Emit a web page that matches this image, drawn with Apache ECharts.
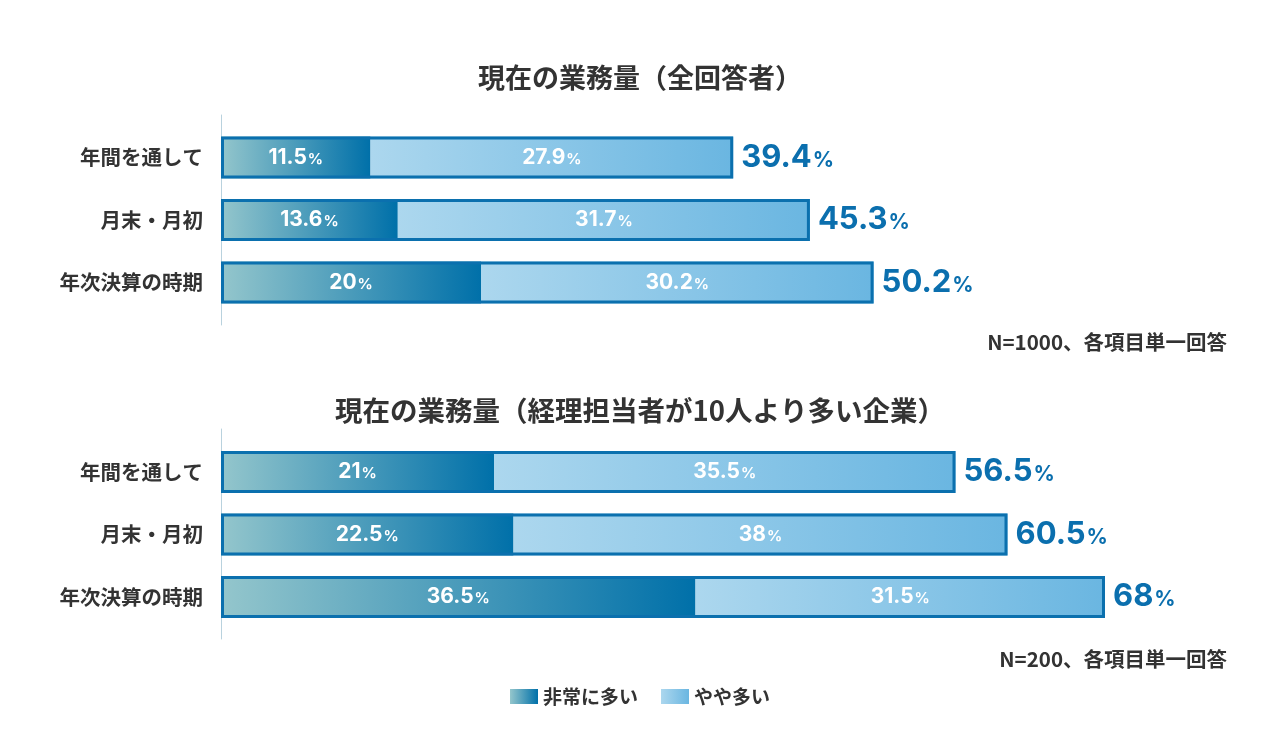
<!DOCTYPE html>
<html>
<head>
<meta charset="UTF-8">
<title>現在の業務量</title>
<style>
  html, body { margin: 0; padding: 0; background: #fff; }
  #container { width: 1280px; height: 750px; }
</style>
</head>
<body>
<div id="container"></div>
<script src="https://cdn.jsdelivr.net/npm/echarts@6/dist/echarts.min.js"></script>
<script>
// データ
var categories = ['年間を通して', '月末・月初', '年次決算の時期'];
var seriesNames = ['非常に多い', 'やや多い'];

// 全回答者 (N=1000)
var allVeryMany = [11.5, 13.6, 20];
var allSomewhatMany = [27.9, 31.7, 30.2];
var allTotal = [39.4, 45.3, 50.2];

// 経理担当者が10人より多い企業 (N=200)
var bigVeryMany = [21, 22.5, 36.5];
var bigSomewhatMany = [35.5, 38, 31.5];
var bigTotal = [56.5, 60.5, 68];

var titles = ['現在の業務量（全回答者）', '現在の業務量（経理担当者が10人より多い企業）'];
var notes = ['N=1000、各項目単一回答', 'N=200、各項目単一回答'];

var NUM = 'Inter, "Noto Sans CJK JP", sans-serif';
var JP = '"Noto Sans CJK JP", sans-serif';

var darkGrad = new echarts.graphic.LinearGradient(0, 0, 1, 0, [
    { offset: 0, color: '#94c6cc' },
    { offset: 1, color: '#0070a9' }
]);
var lightGrad = new echarts.graphic.LinearGradient(0, 0, 1, 0, [
    { offset: 0, color: '#acd7ee' },
    { offset: 1, color: '#6ab6e1' }
]);

function pctLabel(p) {
    return '{n|' + p.value + '}{p|%}';
}

var innerRich = {
    n: { color: '#fff', fontFamily: NUM, fontWeight: 'bold', fontSize: 21 },
    p: { color: '#fff', fontFamily: NUM, fontWeight: 'bold', fontSize: 15, padding: [3, 0, 0, 1] }
};
var totalRich = {
    n: { color: '#0b6fae', fontFamily: NUM, fontWeight: 'bold', fontSize: 31 },
    p: { color: '#0b6fae', fontFamily: NUM, fontWeight: 'bold', fontSize: 21, padding: [6, 0, 0, 1] }
};

function makeSeries(idx, veryMany, somewhatMany, total) {
    return [
        {
            name: seriesNames[0], type: 'bar', stack: 'g' + idx,
            xAxisIndex: idx, yAxisIndex: idx,
            barWidth: 42, data: veryMany,
            itemStyle: { color: darkGrad },
            label: { show: true, position: 'inside', formatter: pctLabel, rich: innerRich },
            emphasis: { disabled: true }
        },
        {
            name: seriesNames[1], type: 'bar', stack: 'g' + idx,
            xAxisIndex: idx, yAxisIndex: idx,
            barWidth: 42, data: somewhatMany,
            itemStyle: { color: lightGrad },
            label: { show: true, position: 'inside', formatter: pctLabel, rich: innerRich },
            emphasis: { disabled: true }
        },
        {
            name: '合計', type: 'bar',
            xAxisIndex: idx, yAxisIndex: idx,
            barWidth: 42, barGap: '-100%', z: 5, data: total,
            itemStyle: { color: 'rgba(0,0,0,0)', borderColor: '#0b70ae', borderWidth: 3 },
            label: { show: true, position: 'right', distance: 8, formatter: pctLabel, rich: totalRich },
            emphasis: { disabled: true }
        }
    ];
}

// 棒用の軸(カテゴリ)
function barYAxis(idx) {
    return {
        type: 'category', gridIndex: idx, data: categories, inverse: true,
        axisLine: { show: false },
        axisTick: { show: false },
        axisLabel: {
            color: '#333', fontFamily: JP, fontWeight: 'bold', fontSize: 20.5, margin: 18
        }
    };
}
// 縦の軸線だけ(少し長めに見せる)
function lineYAxis(idx) {
    return {
        type: 'value', gridIndex: idx, min: 0, max: 1,
        axisLine: { show: true, lineStyle: { color: '#b9d2de', width: 1 } },
        axisTick: { show: false }, axisLabel: { show: false }, splitLine: { show: false }
    };
}
function hiddenXAxis(idx) {
    return { type: 'value', gridIndex: idx, min: 0, max: 80, show: false, splitLine: { show: false } };
}

var myChart = echarts.init(document.getElementById('container'));
myChart.setOption({
    backgroundColor: '#fff',
    animation: false,
    title: [
        { text: titles[0], left: 'center', top: 59,
          textStyle: { color: '#333', fontFamily: JP, fontWeight: 'bold', fontSize: 27 } },
        { text: titles[1], left: 'center', top: 392,
          textStyle: { color: '#333', fontFamily: JP, fontWeight: 'bold', fontSize: 27.5 } },
        { text: notes[0], right: 48, top: 327,
          textStyle: { color: '#333', fontFamily: JP, fontWeight: 'bold', fontSize: 20.5 } },
        { text: notes[1], right: 48, top: 644,
          textStyle: { color: '#333', fontFamily: JP, fontWeight: 'bold', fontSize: 20.5 } }
    ],
    legend: {
        data: seriesNames,
        left: 'center', top: 682,
        itemWidth: 28, itemHeight: 15, itemGap: 23,
        icon: 'rect',
        selectedMode: false,
        textStyle: { color: '#333', fontFamily: JP, fontWeight: 'bold', fontSize: 19 }
    },
    grid: [
        { left: 221, top: 126.25, width: 1040, height: 187.5 },
        { left: 221, top: 440.75, width: 1040, height: 187.5 },
        { left: 221, top: 115, width: 1040, height: 210 },
        { left: 221, top: 429, width: 1040, height: 210 }
    ],
    xAxis: [hiddenXAxis(0), hiddenXAxis(1), hiddenXAxis(2), hiddenXAxis(3)],
    yAxis: [barYAxis(0), barYAxis(1), lineYAxis(2), lineYAxis(3)],
    series: [].concat(
        makeSeries(0, allVeryMany, allSomewhatMany, allTotal),
        makeSeries(1, bigVeryMany, bigSomewhatMany, bigTotal)
    )
});
</script>
</body>
</html>
